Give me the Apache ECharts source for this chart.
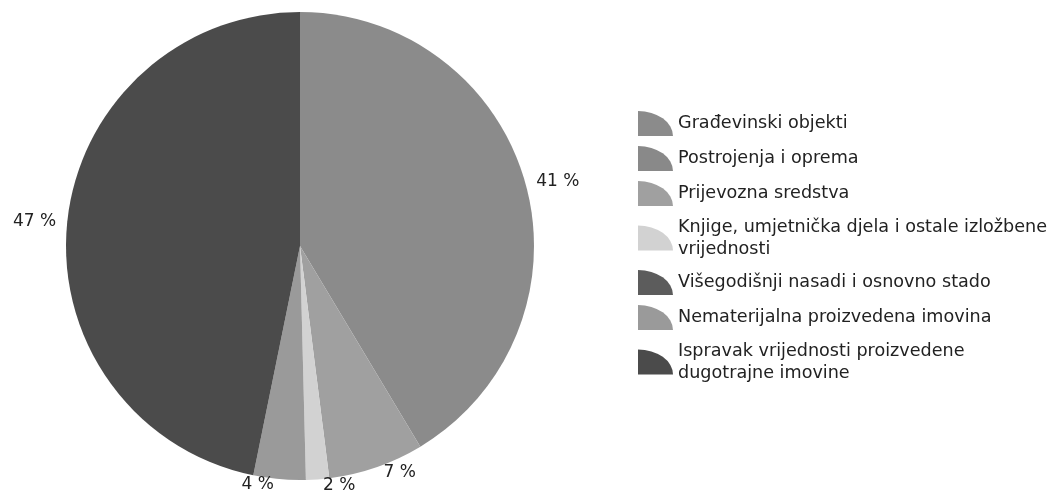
<!DOCTYPE html>
<html>
<head>
<meta charset="utf-8">
<script src="https://cdn.jsdelivr.net/npm/echarts@6/dist/echarts.min.js"></script>
<style>
  html, body { margin: 0; padding: 0; background: #fff; }
  #pie-chart { width: 1059px; height: 503px; }
</style>
</head>
<body>
<div id="pie-chart"></div>
<script>
// kategorije (legenda) i udjeli u %
var categories = [
  'Građevinski objekti',
  'Postrojenja i oprema',
  'Prijevozna sredstva',
  'Knjige, umjetnička djela i ostale izložbene\nvrijednosti',
  'Višegodišnji nasadi i osnovno stado',
  'Nematerijalna proizvedena imovina',
  'Ispravak vrijednosti proizvedene\ndugotrajne imovine'
];
var values = [41.4, 0, 6.6, 1.6, 0, 3.6, 46.8];
var colors = ['#8b8b8b', '#898989', '#a0a0a0', '#d2d2d2', '#5c5c5c', '#9a9a9a', '#4b4b4b'];

var chartDom = document.getElementById('pie-chart');
var myChart = echarts.init(chartDom);

var seriesData = categories.map(function (name, i) {
  return { name: name, value: values[i], itemStyle: { color: colors[i] } };
});

var option = {
  animation: false,
  legend: {
    orient: 'vertical',
    left: 633,
    top: 106,
    itemWidth: 35,
    itemHeight: 25,
    itemGap: 10,
    icon: 'path://M0,0 A35,25 0 0 1 35,25 L0,25 Z',
    selectedMode: false,
    textStyle: {
      fontFamily: 'DejaVu Sans',
      fontSize: 17.6,
      lineHeight: 22,
      color: '#222'
    },
    data: categories
  },
  series: [
    {
      type: 'pie',
      center: [300, 246],
      radius: 234,
      startAngle: 90,
      clockwise: true,
      avoidLabelOverlap: false,
      silent: true,
      data: seriesData,
      label: {
        show: true,
        position: 'outside',
        fontFamily: 'DejaVu Sans',
        fontSize: 17,
        color: '#222',
        formatter: function (p) {
          return p.value > 0 ? Math.round(p.percent) + ' %' : '';
        }
      },
      labelLine: { show: false, length: 6, length2: 0 }
    }
  ]
};

option && myChart.setOption(option);
</script>
</body>
</html>
